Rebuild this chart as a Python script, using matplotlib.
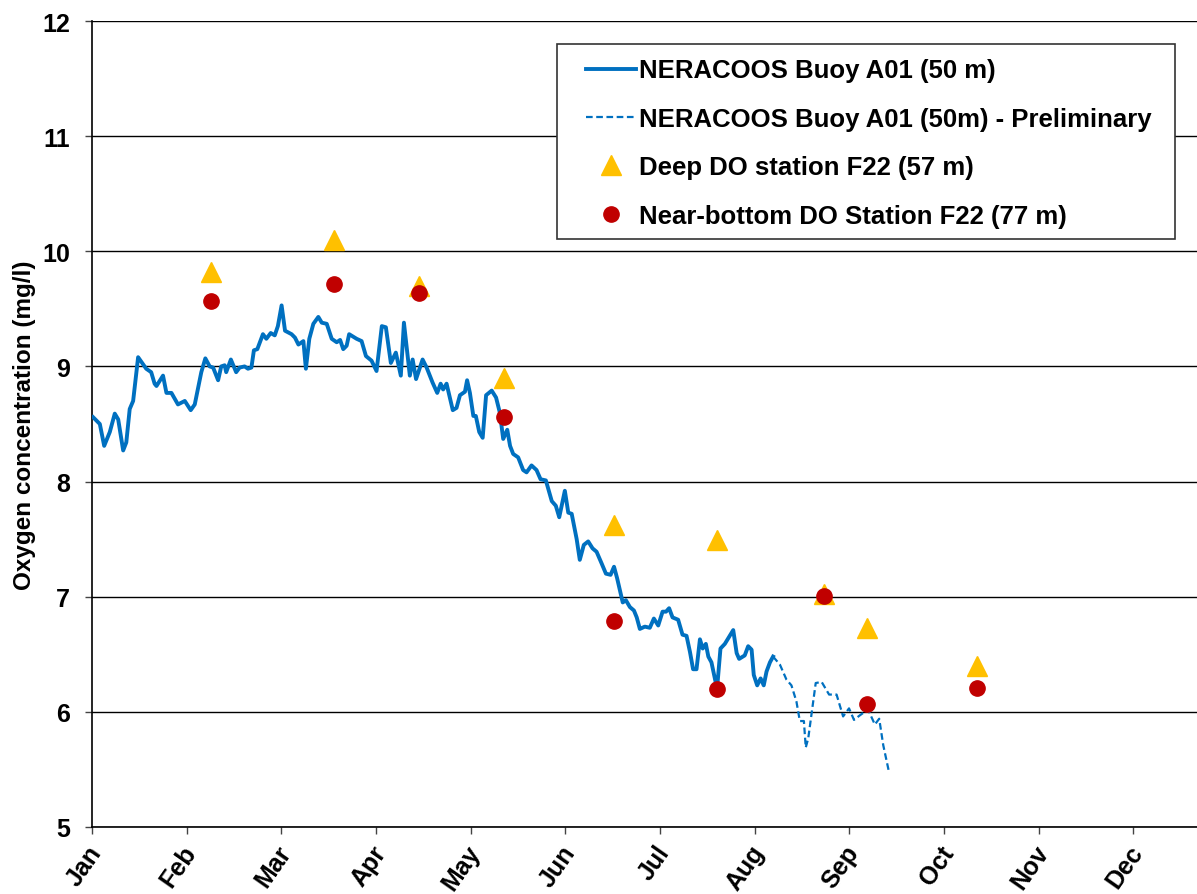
import numpy as np
import matplotlib
matplotlib.use("Agg")
import matplotlib.pyplot as plt
import matplotlib.transforms as mtransforms
from matplotlib.patches import Rectangle

plt.rcParams['font.family'] = ['Liberation Sans', 'DejaVu Sans']
plt.rcParams['font.weight'] = 'bold'

# month labels (equal spacing, 365/12 days each)
months = ["Jan", "Feb", "Mar", "Apr", "May", "Jun",
          "Jul", "Aug", "Sep", "Oct", "Nov", "Dec"]

# NERACOOS Buoy A01 (50 m), day of year / mg/l
buoy_day = [0.3, 2.5, 3.9, 5.7, 7.3, 8.4, 10.0, 11.0, 12.1, 13.2, 14.8, 17.4, 19.0, 20.1,
            20.7, 22.8, 23.9, 25.5, 27.6, 29.8, 31.7, 33.0, 35.1, 36.4, 37.8, 38.9, 40.5,
            41.5, 42.6, 43.1, 44.6, 46.3, 47.4, 49.0, 50.1, 51.2, 52.0, 53.1, 54.9, 56.0,
            57.4, 58.7, 59.7, 60.9, 62.0, 64.1, 65.2, 66.3, 67.9, 68.7, 69.8, 71.1, 72.7,
            73.8, 75.4, 77.0, 78.6, 79.7, 80.7, 81.8, 82.6, 85.0, 86.6, 88.0, 89.8, 91.4,
            93.1, 94.4, 96.0, 97.6, 99.2, 100.2, 102.1, 103.0, 104.1, 106.2, 107.5, 109.4,
            110.9, 112.0, 112.8, 113.9, 115.9, 117.1, 118.2, 119.8, 120.5, 121.4, 122.5,
            123.3, 124.4, 125.5, 126.6, 128.4, 129.8, 131.0, 132.1, 133.4, 134.3, 135.3,
            136.9, 138.5, 139.6, 141.2, 142.8, 144.1, 145.8, 147.7, 149.0, 150.1, 151.9,
            153.0, 154.1, 155.7, 156.7, 158.0, 159.4, 160.8, 162.1, 163.7, 165.1, 166.6,
            167.7, 168.7, 170.5, 171.5, 172.8, 174.1, 175.0, 176.0, 177.6, 179.2, 180.5,
            181.9, 183.3, 184.4, 185.4, 186.5, 188.3, 189.7, 191.0, 192.1, 193.1, 194.2,
            195.3, 196.2, 197.2, 198.0, 199.0, 200.1, 200.8, 201.9, 203.3, 206.0, 207.1,
            207.9, 209.7, 210.8, 211.9, 212.6, 213.7, 214.8, 215.8, 216.7, 217.8, 218.8]
buoy_do = [8.56, 8.50, 8.31, 8.43, 8.59, 8.54, 8.27, 8.34, 8.63, 8.70, 9.08, 8.98, 8.95, 8.85,
           8.83, 8.92, 8.77, 8.77, 8.67, 8.70, 8.62, 8.67, 8.95, 9.07, 9.00, 8.99, 8.88,
           9.00, 9.01, 8.95, 9.06, 8.95, 8.99, 9.00, 8.98, 8.99, 9.14, 9.15, 9.28, 9.24,
           9.29, 9.27, 9.35, 9.53, 9.31, 9.28, 9.25, 9.19, 9.22, 8.98, 9.24, 9.37, 9.43,
           9.38, 9.37, 9.24, 9.21, 9.23, 9.15, 9.18, 9.28, 9.24, 9.22, 9.09, 9.05, 8.96,
           9.35, 9.34, 9.03, 9.12, 8.92, 9.38, 8.92, 9.06, 8.89, 9.06, 8.99, 8.86,
           8.77, 8.85, 8.80, 8.85, 8.62, 8.64, 8.75, 8.78, 8.88, 8.77, 8.57,
           8.57, 8.43, 8.38, 8.75, 8.79, 8.73, 8.60, 8.37, 8.45, 8.31, 8.24,
           8.21, 8.10, 8.08, 8.14, 8.10, 8.02, 8.01, 7.83, 7.79, 7.69, 7.92,
           7.73, 7.72, 7.50, 7.32, 7.45, 7.48, 7.42, 7.39, 7.29, 7.20, 7.19,
           7.26, 7.16, 6.95, 6.97, 6.91, 6.88, 6.82, 6.72, 6.74, 6.73, 6.81,
           6.75, 6.87, 6.87, 6.90, 6.82, 6.80, 6.67, 6.66, 6.52, 6.37, 6.37,
           6.63, 6.55, 6.59, 6.48, 6.43, 6.29, 6.20, 6.55, 6.59, 6.71, 6.51,
           6.46, 6.49, 6.57, 6.54, 6.32, 6.23, 6.29, 6.23, 6.35, 6.43, 6.48]

# preliminary part of the buoy record
prelim_day = [218.8, 221.0, 223.1, 224.7, 226.3, 227.4, 228.7, 229.3, 230.1, 231.7, 232.5,
              234.4, 236.8, 239.2, 241.3, 243.2, 244.8, 246.7, 249.3, 251.5, 252.9,
              254.2, 256.1]
prelim_do = [6.48, 6.41, 6.28, 6.23, 6.09, 5.92, 5.92, 5.69, 5.77, 6.09, 6.25,
             6.26, 6.15, 6.15, 5.96, 6.03, 5.93, 5.97, 6.02, 5.89, 5.94,
             5.71, 5.47]

# station F22 samples
station_day = [38.2, 77.7, 105.0, 132.3, 167.7, 200.7, 235.1, 249.0, 284.3]
deep_do = [9.82, 10.10, 9.70, 8.90, 7.62, 7.49, 7.02, 6.73, 6.40]
bottom_do = [9.57, 9.72, 9.64, 8.56, 6.79, 6.20, 7.01, 6.07, 6.21]

fig = plt.figure(figsize=(11.97, 8.95), dpi=100)
ax = fig.add_axes([0.0769, 0.0749, 0.9231, 0.9005])

ax.plot(buoy_day, buoy_do, color='#0070C0', lw=2.8, zorder=3,
        label='NERACOOS Buoy A01 (50 m)')
ax.plot(prelim_day, prelim_do, color='#0070C0', lw=1.6, ls=(0, (3, 1.6)), zorder=3,
        label='NERACOOS Buoy A01 (50m) - Preliminary')
ax.plot(station_day, deep_do, ls='none', marker='^', ms=14, color='#FFC000',
        zorder=4, label='Deep DO station F22 (57 m)')
ax.plot(station_day, bottom_do, ls='none', marker='o', ms=11, color='#C00000',
        zorder=5, label='Near-bottom DO Station F22 (77 m)')

month_len = 365 / 12
ax.set_xlim(0, 355)
ax.set_ylim(5, 12)
ax.set_xticks(np.arange(12) * month_len)
ax.set_xticklabels(months, rotation=55, ha='right', rotation_mode='anchor')
ax.set_yticks(np.arange(5, 13))
ax.tick_params(axis='both', labelsize=18, direction='out', length=5, width=1, color='#444444')
ax.tick_params(axis='x', pad=5)
ax.tick_params(axis='y', pad=11)

# nudge month labels a little to the left
shift = mtransforms.ScaledTranslation(-5 / 100, 0, fig.dpi_scale_trans)
for lbl in ax.get_xticklabels():
    lbl.set_transform(lbl.get_transform() + shift)

ax.grid(axis='y', color='black', lw=1)
ax.set_axisbelow(True)
for side in ['top', 'right']:
    ax.spines[side].set_visible(False)
for side in ['left', 'bottom']:
    ax.spines[side].set_color('black')
    ax.spines[side].set_linewidth(1.2)

ax.set_ylabel('Oxygen concentration (mg/l)', fontsize=17.5, fontweight='bold', labelpad=4)

# legend box (drawn separately: wider side padding than top/bottom)
box_x0, box_x1 = 0.4208, 0.9801
box_y0, box_y1 = 0.7295, 0.9715
ax.add_patch(Rectangle((box_x0, box_y0), box_x1 - box_x0, box_y1 - box_y0,
                       transform=ax.transAxes, facecolor='white', edgecolor='#333333',
                       lw=1.2, zorder=6))
leg = ax.legend(loc='upper left', bbox_to_anchor=(box_x0 + 0.026, box_y1 - 0.018),
                borderaxespad=0, fontsize=18.5, frameon=False, handlelength=1.95,
                handletextpad=0.12, labelspacing=0.95, borderpad=0)
leg.set_zorder(7)

fig.savefig('out.png', dpi=100)
